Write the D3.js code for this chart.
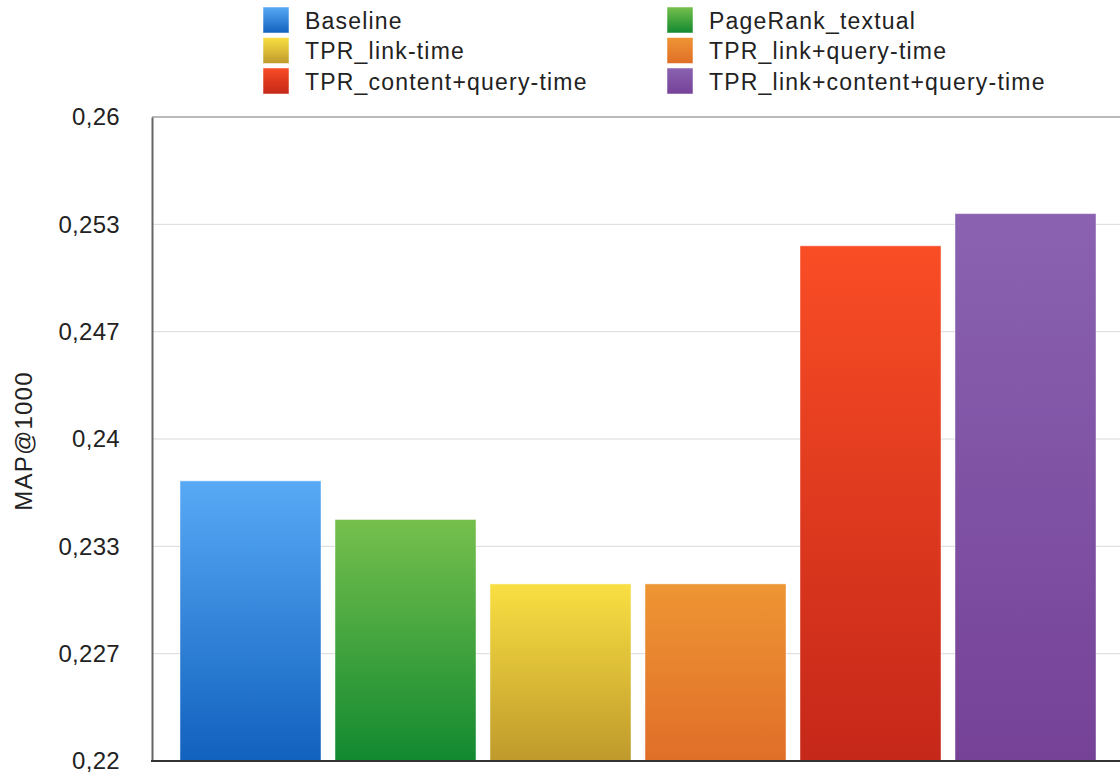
<!DOCTYPE html>
<html>
<head>
<meta charset="utf-8">
<script src="https://cdn.jsdelivr.net/npm/d3@7"></script>
<style>
  html, body { margin: 0; padding: 0; background: #fff; }
  svg { display: block; font-family: "Liberation Sans", Arial, sans-serif; }
</style>
</head>
<body>
<svg id="chart" width="1120" height="779"></svg>
<script>
// Runs compared on MAP@1000
const series = [
  "Baseline",
  "PageRank_textual",
  "TPR_link-time",
  "TPR_link+query-time",
  "TPR_content+query-time",
  "TPR_link+content+query-time"
];
const values = [0.2374, 0.2350, 0.2310, 0.2310, 0.2520, 0.2540];

// Gradient stops per series: [top, bottom]
const colorTop = ["#58aaf6", "#76c04d", "#f9df42", "#ee9534", "#f94d25", "#8a62b1"];
const colorBottom = ["#1161be", "#128930", "#bf9a2c", "#e06e28", "#c52719", "#754298"];

const yDomain = [0.22, 0.26];
const tickValues = [0.22, 0.226667, 0.233333, 0.24, 0.246667, 0.253333, 0.26];
const tickLabels = ["0,22", "0,227", "0,233", "0,24", "0,247", "0,253", "0,26"];
const yTitle = "MAP@1000";

// Legend order: two columns, three rows
const legendOrder = [0, 2, 4, 1, 3, 5];

const svg = d3.select("#chart");
const margin = { left: 152, top: 117, right: -4, bottom: 18 };
const W = 1120, H = 779;
const x0 = margin.left, x1 = W - margin.right;
const y0 = H - margin.bottom, y1 = margin.top;

const x = d3.scaleBand()
  .domain(series)
  .range([x0, x1])
  .paddingInner(14 / 155)
  .paddingOuter(0.1806);

const y = d3.scaleLinear().domain(yDomain).range([y0, y1]);

// Gradients
const defs = svg.append("defs");
series.forEach((s, i) => {
  const g = defs.append("linearGradient")
    .attr("id", "grad" + i)
    .attr("x1", 0).attr("y1", 0).attr("x2", 0).attr("y2", 1);
  g.append("stop").attr("offset", "0%").attr("stop-color", colorTop[i]);
  g.append("stop").attr("offset", "100%").attr("stop-color", colorBottom[i]);
});

// Grid lines
svg.append("g")
  .selectAll("line")
  .data(tickValues.slice(1, -1))
  .join("line")
  .attr("x1", x0).attr("x2", x1)
  .attr("y1", d => y(d)).attr("y2", d => y(d))
  .attr("stroke", "#d9d9d9")
  .attr("stroke-width", 1);

// Top frame line
svg.append("line")
  .attr("x1", x0).attr("x2", x1)
  .attr("y1", y(yDomain[1])).attr("y2", y(yDomain[1]))
  .attr("stroke", "#777").attr("stroke-width", 1.2);

// Bars
svg.append("g")
  .selectAll("rect")
  .data(series)
  .join("rect")
  .attr("x", d => x(d))
  .attr("width", x.bandwidth())
  .attr("y", (d, i) => y(values[i]))
  .attr("height", (d, i) => y(yDomain[0]) - y(values[i]))
  .attr("fill", (d, i) => `url(#grad${i})`)
  .attr("stroke", "rgba(255,255,255,0.45)")
  .attr("stroke-width", 1);

// Y axis
const yAxis = d3.axisLeft(y)
  .tickValues(tickValues)
  .tickFormat((d, i) => tickLabels[i])
  .tickSize(0)
  .tickPadding(32);

const ay = svg.append("g")
  .attr("transform", `translate(${x0},0)`)
  .call(yAxis);
ay.select(".domain").attr("stroke", "#666").attr("stroke-width", 2);
ay.selectAll("text")
  .attr("font-size", 24)
  .attr("letter-spacing", 0.3)
  .attr("fill", "#222")
  .attr("font-family", "'Liberation Sans', Arial, sans-serif");

// Bottom axis line
svg.append("line")
  .attr("x1", x0 - 1).attr("x2", x1)
  .attr("y1", y0).attr("y2", y0)
  .attr("stroke", "#333").attr("stroke-width", 2);

// Y axis title
svg.append("text")
  .attr("transform", `translate(32,${(y0 + y1) / 2 + 2}) rotate(-90)`)
  .attr("text-anchor", "middle")
  .attr("font-size", 24)
  .attr("letter-spacing", 1.2)
  .attr("fill", "#222")
  .text(yTitle);

// Legend
const legendCols = [263, 667];
const legendRows = [20, 50.5, 81];
const legend = svg.append("g");
legendOrder.forEach((si, k) => {
  const col = Math.floor(k / 3), row = k % 3;
  const lx = legendCols[col], ly = legendRows[row];
  legend.append("rect")
    .attr("x", lx).attr("y", ly - 13)
    .attr("width", 26).attr("height", 26)
    .attr("fill", `url(#grad${si})`)
    .attr("stroke", "rgba(255,255,255,0.5)")
    .attr("stroke-width", 1);
  legend.append("text")
    .attr("x", lx + 42).attr("y", ly + 8.5)
    .attr("font-size", 23)
    .attr("letter-spacing", 1.2)
    .attr("fill", "#222")
    .text(series[si]);
});
</script>
</body>
</html>
